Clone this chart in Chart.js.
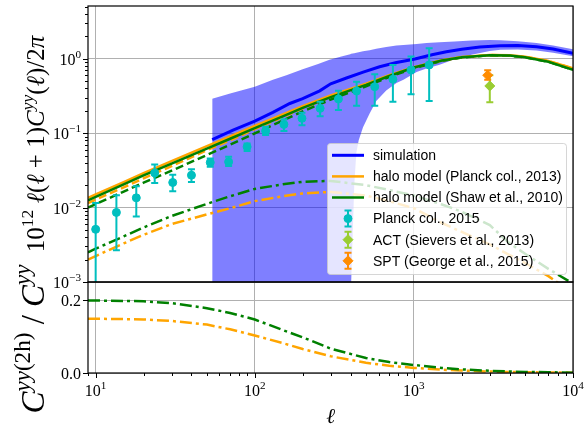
<!DOCTYPE html>
<html>
<head>
<meta charset="utf-8">
<script src="https://cdn.jsdelivr.net/npm/chart.js@4.4.0/dist/chart.umd.js"></script>
<style>
  html, body { margin: 0; padding: 0; background: #fff; }
  #wrap { width: 585px; height: 425px; }
</style>
</head>
<body>
<div id="wrap"><canvas id="tsz" width="585" height="425"></canvas></div>
<script>
// multipoles used for the halo model curves
const ell = [8.95, 10, 15, 20, 30, 50, 70, 100, 150, 200, 300, 500, 700, 1000, 1500, 2000, 3000, 4000, 5000, 7000, 10000];

// halo model (Planck col., 2013): total, 1-halo, 2-halo
const planckTot = [0.0135, 0.015, 0.022, 0.029, 0.042, 0.067, 0.09, 0.125, 0.178, 0.23, 0.32, 0.46, 0.6, 0.77, 0.95, 1.05, 1.12, 1.11, 1.06, 0.93, 0.74];
const planck1h  = [0.0115, 0.0128, 0.0187, 0.0247, 0.036, 0.059, 0.08, 0.113, 0.164, 0.215, 0.304, 0.446, 0.588, 0.76, 0.944, 1.045, 1.117, 1.108, 1.058, 0.929, 0.739];
const planck2h  = [0.002, 0.00223, 0.0033, 0.0043, 0.006, 0.0081, 0.0098, 0.0122, 0.0142, 0.0155, 0.0162, 0.0145, 0.0122, 0.0098, 0.0062, 0.0047, 0.0032, 0.0023, 0.0018, 0.0012, 0.0007];

// halo model (Shaw et al., 2010): total, 1-halo, 2-halo
const shawTot = [0.0125, 0.0139, 0.0205, 0.027, 0.039, 0.062, 0.084, 0.117, 0.168, 0.218, 0.305, 0.445, 0.585, 0.76, 0.945, 1.045, 1.115, 1.1, 1.045, 0.91, 0.71];
const shaw1h  = [0.01, 0.0111, 0.0164, 0.0216, 0.0313, 0.0508, 0.0698, 0.0992, 0.1475, 0.1958, 0.2822, 0.425, 0.5678, 0.7455, 0.934, 1.036, 1.109, 1.097, 1.043, 0.909, 0.709];
const shaw2h  = [0.0025, 0.0028, 0.0041, 0.0054, 0.0077, 0.0112, 0.0142, 0.0178, 0.0205, 0.0222, 0.0228, 0.02, 0.0172, 0.0145, 0.011, 0.0088, 0.0058, 0.0033, 0.0024, 0.0015, 0.00095];

// lower panel: 2-halo fraction
const planckRatio = [0.149, 0.149, 0.148, 0.147, 0.143, 0.133, 0.12, 0.103, 0.082, 0.066, 0.046, 0.028, 0.02, 0.014, 0.009, 0.007, 0.004, 0.003, 0.002, 0.0015, 0.001];
const shawRatio   = [0.199, 0.199, 0.198, 0.197, 0.192, 0.178, 0.165, 0.147, 0.118, 0.098, 0.067, 0.041, 0.03, 0.022, 0.014, 0.01, 0.006, 0.004, 0.003, 0.002, 0.001];

// simulation mean
const simEll = [54, 73, 100, 130, 166, 200, 256, 300, 377, 480, 609, 777, 1000, 1300, 1600, 2000, 2600, 3500, 4500, 5900, 7500, 10000];
const simVal = [0.082, 0.11, 0.145, 0.19, 0.25, 0.29, 0.37, 0.46, 0.55, 0.66, 0.78, 0.89, 0.98, 1.13, 1.24, 1.34, 1.43, 1.49, 1.5, 1.45, 1.35, 1.18];

// simulation scatter band (lower edge runs below the plotted range at low ell)
const bandEll = [54, 70, 100, 130, 158, 200, 250, 295, 350, 398, 403, 412, 422, 435, 450, 479, 527, 580, 670, 777, 860, 1040, 1200, 1450, 1800, 2300, 3000, 3500, 4500, 5900, 7500, 10000];
const bandHi  = [0.29, 0.34, 0.42, 0.52, 0.6, 0.72, 0.85, 0.97, 1.07, 1.15, 1.16, 1.17, 1.18, 1.2, 1.22, 1.26, 1.3, 1.36, 1.43, 1.5, 1.53, 1.58, 1.62, 1.66, 1.7, 1.76, 1.78, 1.77, 1.72, 1.62, 1.5, 1.34];
const bandLo  = [1e-4, 1e-4, 1e-4, 1e-4, 1e-4, 1e-4, 1e-4, 1e-4, 1e-4, 1e-4, 0.0009, 0.004, 0.02, 0.055, 0.08, 0.12, 0.184, 0.27, 0.375, 0.47, 0.52, 0.66, 0.74, 0.83, 0.98, 1.13, 1.27, 1.32, 1.33, 1.29, 1.2, 1.08];

// Planck col., 2015 measurements
const planckEll = [10, 13.5, 18, 23.5, 30.5, 40, 52.5, 68.5, 89.5, 117, 152.5, 198, 257.5, 335.5, 436.5, 567.5, 738, 959.5, 1247.5];
const planckVal = [0.0051, 0.0086, 0.0135, 0.0292, 0.0217, 0.0272, 0.0403, 0.0411, 0.0654, 0.107, 0.131, 0.158, 0.215, 0.287, 0.367, 0.42, 0.528, 0.705, 0.823];
const planckLo  = [1e-4, 0.00266, 0.0076, 0.0214, 0.0166, 0.022, 0.0354, 0.0363, 0.0573, 0.094, 0.107, 0.128, 0.169, 0.204, 0.233, 0.233, 0.264, 0.333, 0.27];
const planckHi  = [0.0115, 0.0146, 0.0194, 0.0379, 0.0275, 0.0326, 0.0457, 0.048, 0.0726, 0.122, 0.153, 0.188, 0.264, 0.371, 0.49, 0.62, 0.82, 1.07, 1.38];

// ACT and SPT points
const actEll = [3000], actVal = [0.43], actLo = [0.26], actHi = [0.6];
const sptEll = [2910], sptVal = [0.6], sptLo = [0.52], sptHi = [0.7];

// axis ticks
const xMajor = [10, 100, 1000, 10000];
const xLabels = ['1', '2', '3', '4'];
const yMajor = [0.001, 0.01, 0.1, 1];
const yLabels = ['\u22123', '\u22122', '\u22121', '0'];
const rMajor = [0, 0.2];
const rLabels = ['0.0', '0.2'];

const BLUE = '#0000ff', ORANGE = '#ffa500', GREEN = '#008000', CYAN = '#00bfbf', YGREEN = '#9acd32', DORANGE = '#ff8c00';
const GRID = '#b0b0b0';
const SERIF = '"Liberation Serif", "DejaVu Serif", serif';
const SANS = '"Liberation Sans", Arial, sans-serif';
const DASH = [8, 4];
const DASHDOT = [12, 4, 3, 4];

const pts = (xs, ys) => xs.map((x, i) => ({ x: x, y: ys[i] }));

function minorLog(lo, hi) {
    const out = [];
    for (let e = Math.floor(Math.log10(lo)); e < Math.ceil(Math.log10(hi)); e++) {
        for (let m = 2; m <= 9; m++) {
            const v = m * Math.pow(10, e);
            if (v >= lo && v <= hi) out.push(v);
        }
    }
    return out;
}

function curve(label, xs, ys, color, width, dash, axis) {
    return {
        label: label, data: pts(xs, ys), yAxisID: axis,
        borderColor: color, backgroundColor: color, borderWidth: width,
        borderDash: dash || [], pointRadius: 0, fill: false
    };
}

function points(label, xs, ys, lo, hi, color, style, radius, rank) {
    return {
        label: label, data: pts(xs, ys), yAxisID: 'y', showLine: false,
        pointStyle: style, pointRadius: radius, pointBackgroundColor: color,
        pointBorderColor: color, pointBorderWidth: 1, borderColor: color, backgroundColor: color,
        errLo: lo, errHi: hi, legendRank: rank
    };
}

const datasets = [
    points('SPT (George et al., 2015)', sptEll, sptVal, sptLo, sptHi, DORANGE, 'rectRot', 5, 6),
    points('ACT (Sievers et al., 2013)', actEll, actVal, actLo, actHi, YGREEN, 'rectRot', 5, 5),
    points('Planck col., 2015', planckEll, planckVal, planckLo, planckHi, CYAN, 'circle', 4, 4),
    Object.assign(curve('halo model (Shaw et al., 2010)', ell, shawTot, GREEN, 2.5, null, 'y'), { legendRank: 3 }),
    Object.assign(curve('halo model (Planck col., 2013)', ell, planckTot, ORANGE, 2.5, null, 'y'), { legendRank: 2 }),
    curve('Shaw 1-halo', ell, shaw1h, GREEN, 2.5, DASH, 'y'),
    curve('Planck 1-halo', ell, planck1h, ORANGE, 2.5, DASH, 'y'),
    curve('Shaw 2-halo', ell, shaw2h, GREEN, 2.5, DASHDOT, 'y'),
    curve('Planck 2-halo', ell, planck2h, ORANGE, 2.5, DASHDOT, 'y'),
    Object.assign(curve('simulation', simEll, simVal, BLUE, 3, null, 'y'), { legendRank: 1 }),
    curve('Shaw 2h fraction', ell, shawRatio, GREEN, 2.5, DASHDOT, 'yr'),
    curve('Planck 2h fraction', ell, planckRatio, ORANGE, 2.5, DASHDOT, 'yr'),
    {
        label: 'band upper', data: pts(bandEll, bandHi), yAxisID: 'y', fill: '+1',
        backgroundColor: 'rgba(0,0,255,0.5)', borderColor: 'rgba(0,0,0,0)', borderWidth: 0, pointRadius: 0
    },
    {
        label: 'band lower', data: pts(bandEll, bandLo), yAxisID: 'y', fill: false,
        backgroundColor: 'rgba(0,0,0,0)', borderColor: 'rgba(0,0,0,0)', borderWidth: 0, pointRadius: 0
    }
];

function setTicks(major, minor) {
    return function (scale) {
        const t = major.map(v => ({ value: v, major: true })).concat(minor.map(v => ({ value: v })));
        t.sort((a, b) => a.value - b.value);
        scale.ticks = t;
    };
}

const gridColor = ctx => (ctx.tick && ctx.tick.major ? GRID : 'rgba(0,0,0,0)');

// rich text: parts are [text, style] with style r / i / sr / si
function fontOf(size, italic) {
    return (italic ? 'italic ' : '') + size + 'px ' + SERIF;
}
function partsWidth(ctx, parts, size) {
    let w = 0;
    for (const [t, s] of parts) {
        ctx.font = fontOf(s[0] === 's' ? size * 0.7 : size, s.endsWith('i'));
        w += ctx.measureText(t).width;
    }
    return w;
}
function drawParts(ctx, parts, x, y, size) {
    ctx.textAlign = 'left';
    ctx.textBaseline = 'alphabetic';
    for (const [t, s] of parts) {
        const sup = s[0] === 's';
        ctx.font = fontOf(sup ? size * 0.7 : size, s.endsWith('i'));
        ctx.fillText(t, x, sup ? y - size * 0.42 : y);
        x += ctx.measureText(t).width;
    }
}

function errBar(ctx, px, pTop, pBot, color) {
    ctx.strokeStyle = color;
    ctx.lineWidth = 2;
    ctx.beginPath();
    ctx.moveTo(px, pTop); ctx.lineTo(px, pBot);
    ctx.moveTo(px - 3.5, pTop); ctx.lineTo(px + 3.5, pTop);
    ctx.moveTo(px - 3.5, pBot); ctx.lineTo(px + 3.5, pBot);
    ctx.stroke();
}

// keep each dataset inside its own panel (the two y scales share one chart area)
let drawOrder = [], drawPos = 0;
function clipPanel(chart, meta) {
    const ctx = chart.ctx, a = chart.chartArea, ys = meta.yScale;
    ctx.save();
    ctx.beginPath();
    ctx.rect(a.left, ys.top, a.right - a.left, ys.bottom - ys.top);
    ctx.clip();
}
const panelClip = {
    id: 'panelClip',
    beforeDatasetsDraw(chart) {
        drawOrder = chart.getSortedVisibleDatasetMetas().slice().reverse();
        drawPos = 0;
        if (drawOrder.length) clipPanel(chart, drawOrder[0]);
    },
    afterDatasetDraw(chart) {
        chart.ctx.restore();
        drawPos++;
        if (drawPos < drawOrder.length) clipPanel(chart, drawOrder[drawPos]);
    }
};

const errorBars = {
    id: 'errorBars',
    beforeDatasetDraw(chart, args) {
        const ds = chart.data.datasets[args.index];
        if (!ds.errLo) return;
        const xs = args.meta.xScale, ys = args.meta.yScale;
        ds.data.forEach((p, i) => {
            errBar(chart.ctx, xs.getPixelForValue(p.x), ys.getPixelForValue(ds.errHi[i]),
                ys.getPixelForValue(ds.errLo[i]), ds.borderColor);
        });
    }
};

const axesDeco = {
    id: 'axesDeco',
    afterDraw(chart) {
        const ctx = chart.ctx, a = chart.chartArea;
        const { x, y, yr } = chart.scales;
        ctx.save();
        ctx.fillStyle = '#000';
        ctx.strokeStyle = '#000';

        // tick marks
        ctx.lineWidth = 1;
        ctx.beginPath();
        x.ticks.forEach(t => {
            const px = Math.round(x.getPixelForValue(t.value)) + 0.5;
            ctx.moveTo(px, a.bottom); ctx.lineTo(px, a.bottom + (t.major ? 5 : 3));
        });
        [y, yr].forEach(s => s.ticks.forEach(t => {
            const py = Math.round(s.getPixelForValue(t.value)) + 0.5;
            ctx.moveTo(a.left, py); ctx.lineTo(a.left - (t.major ? 5 : 3), py);
        }));
        ctx.stroke();

        // frames of both panels
        ctx.lineWidth = 1.2;
        [y, yr].forEach(s => ctx.strokeRect(a.left, s.top, a.right - a.left, s.bottom - s.top));

        // tick labels
        xMajor.forEach((v, i) => {
            const parts = [['10', 'r'], [xLabels[i], 'sr']];
            const w = partsWidth(ctx, parts, 16);
            drawParts(ctx, parts, x.getPixelForValue(v) - w / 2, a.bottom + 23, 16);
        });
        yMajor.forEach((v, i) => {
            const parts = [['10', 'r'], [yLabels[i], 'sr']];
            const w = partsWidth(ctx, parts, 16);
            drawParts(ctx, parts, a.left - 7 - w, y.getPixelForValue(v) + 6, 16);
        });
        ctx.font = fontOf(16, false);
        ctx.textAlign = 'right';
        rMajor.forEach((v, i) => ctx.fillText(rLabels[i], a.left - 7, yr.getPixelForValue(v) + 6));

        // axis titles (the lower one is larger and reaches up past its panel)
        const topTitle = [['10', 'r'], ['12', 'sr'], [' ', 'r'], ['\u2113', 'i'], ['(', 'r'], ['\u2113', 'i'],
            [' + 1)', 'r'], ['C', 'i'], ['yy', 'si'], ['(', 'r'], ['\u2113', 'i'], [')/2', 'r'], ['\u03c0', 'i']];
        const botTitle = [['C', 'i'], ['yy', 'si'], ['(2h)', 'sr'], [' / ', 'r'], ['C', 'i'], ['yy', 'si']];
        [[topTitle, 25, 144], [botTitle, 33, 339]].forEach(([parts, size, cy]) => {
            const w = partsWidth(ctx, parts, size);
            ctx.save();
            ctx.translate(43.5, cy);
            ctx.rotate(-Math.PI / 2);
            drawParts(ctx, parts, -w / 2, 0, size);
            ctx.restore();
        });
        const xt = [['\u2113', 'i']];
        drawParts(ctx, xt, (a.left + a.right) / 2 - partsWidth(ctx, xt, 21) / 2, 423, 21);
        ctx.restore();
    }
};

const legendBox = {
    id: 'legendBox',
    afterDraw(chart) {
        const ctx = chart.ctx;
        const items = chart.data.datasets.filter(d => d.legendRank).sort((p, q) => p.legendRank - q.legendRank);
        const bx = 327.5, by = 143.5, bw = 239, bh = 131, r = 3;
        ctx.save();
        ctx.beginPath();
        ctx.moveTo(bx + r, by);
        ctx.arcTo(bx + bw, by, bx + bw, by + bh, r);
        ctx.arcTo(bx + bw, by + bh, bx, by + bh, r);
        ctx.arcTo(bx, by + bh, bx, by, r);
        ctx.arcTo(bx, by, bx + bw, by, r);
        ctx.closePath();
        ctx.fillStyle = 'rgba(255,255,255,0.8)';
        ctx.fill();
        ctx.strokeStyle = 'rgba(204,204,204,0.8)';
        ctx.lineWidth = 1;
        ctx.stroke();

        items.forEach((d, i) => {
            const yy = 155.3 + i * 21.1;
            if (d.showLine === false) {
                errBar(ctx, 348, yy - 8, yy + 8, d.borderColor);
                ctx.fillStyle = d.borderColor;
                ctx.strokeStyle = d.borderColor;
                ctx.lineWidth = 1;
                Chart.helpers.drawPoint(ctx, { pointStyle: d.pointStyle, radius: d.pointRadius, borderWidth: 1, rotation: 0 }, 348, yy);
            } else {
                ctx.strokeStyle = d.borderColor;
                ctx.lineWidth = d.borderWidth;
                ctx.setLineDash([]);
                ctx.beginPath();
                ctx.moveTo(332, yy); ctx.lineTo(364, yy);
                ctx.stroke();
            }
            ctx.fillStyle = '#000';
            ctx.font = '14px ' + SANS;
            ctx.textAlign = 'left';
            ctx.textBaseline = 'middle';
            ctx.fillText(d.label, 373, yy + 1);
        });
        ctx.restore();
    }
};

new Chart(document.getElementById('tsz'), {
    type: 'line',
    data: { datasets: datasets },
    options: {
        responsive: false,
        animation: false,
        devicePixelRatio: 1,
        events: [],
        layout: { padding: { left: 0, right: 12, top: 6, bottom: 0 } },
        elements: { line: { tension: 0 } },
        plugins: { legend: { display: false }, tooltip: { enabled: false } },
        scales: {
            x: {
                type: 'logarithmic', min: 8.95, max: 10000,
                afterBuildTicks: setTicks(xMajor, minorLog(8.95, 10000)),
                afterFit: s => { s.height = 52; },
                ticks: { display: false, autoSkip: false },
                grid: { color: gridColor, lineWidth: 1, drawTicks: false },
                border: { display: false }
            },
            yr: {
                type: 'linear', position: 'left', stack: 'panels', stackWeight: 91,
                min: 0, max: 0.25,
                afterBuildTicks: setTicks(rMajor, []),
                afterFit: s => { s.width = 88; },
                ticks: { display: false },
                grid: { color: gridColor, lineWidth: 1, drawTicks: false },
                border: { display: false }
            },
            y: {
                type: 'logarithmic', position: 'left', stack: 'panels', stackWeight: 276,
                min: 0.001, max: 5.1,
                afterBuildTicks: setTicks(yMajor, minorLog(0.001, 5.1)),
                afterFit: s => { s.width = 88; },
                ticks: { display: false, autoSkip: false },
                grid: { color: gridColor, lineWidth: 1, drawTicks: false },
                border: { display: false }
            }
        }
    },
    plugins: [panelClip, errorBars, axesDeco, legendBox]
});
</script>
</body>
</html>
